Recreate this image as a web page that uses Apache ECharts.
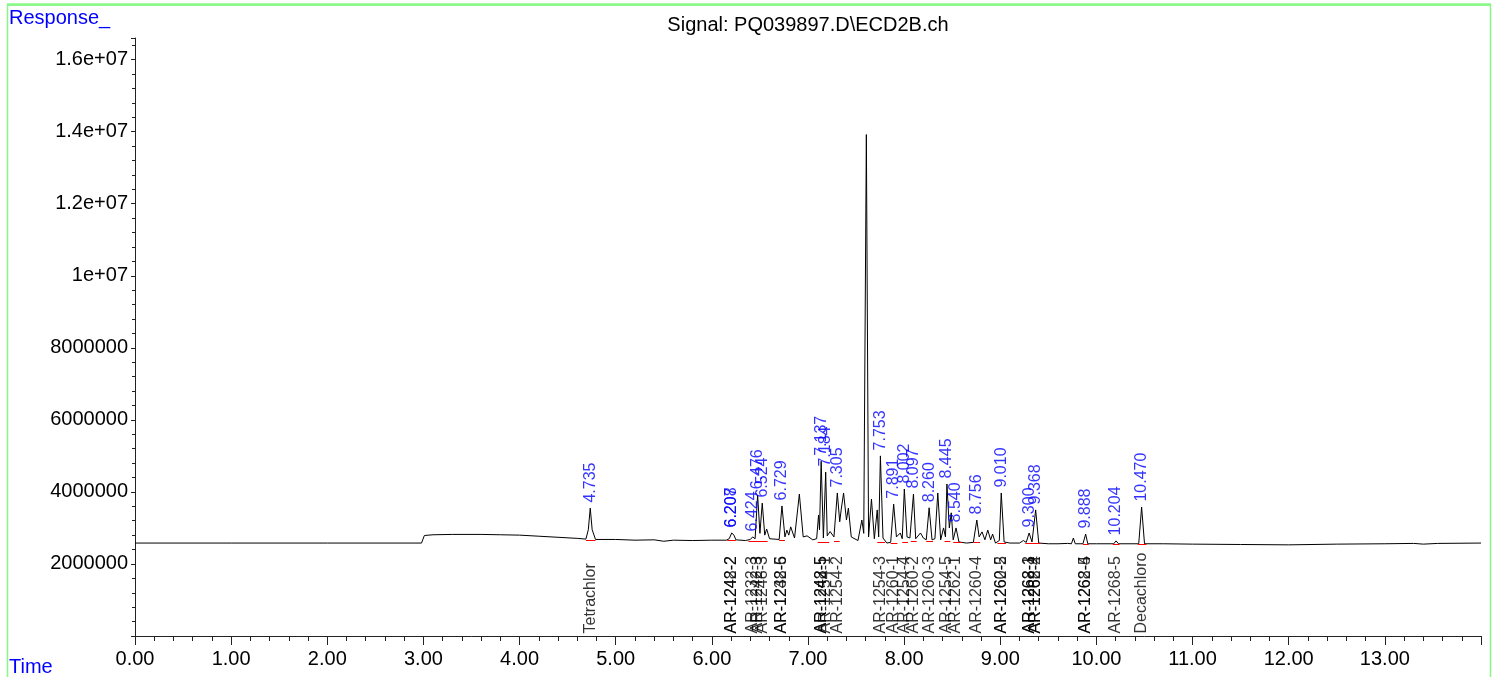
<!DOCTYPE html>
<html>
<head>
<meta charset="utf-8">
<script src="https://cdn.jsdelivr.net/npm/echarts@6/dist/echarts.min.js"></script>
<style>
html,body{margin:0;padding:0;background:#fff;}
#chart{width:1498px;height:677px;}
</style>
</head>
<body>
<div id="chart"></div>
<script>
// Chromatogram signal (time in min, response)
const sigTime = [0.00,1.00,2.00,2.98,3.01,3.10,3.30,3.60,3.80,4.00,4.20,4.40,4.60,4.69,4.715,4.735,4.755,4.79,5.00,5.20,5.40,5.50,5.60,5.80,6.00,6.15,6.18,6.207,6.23,6.25,6.35,6.40,6.424,6.45,6.476,6.50,6.524,6.55,6.57,6.60,6.70,6.729,6.76,6.78,6.80,6.82,6.86,6.91,6.95,6.99,7.05,7.09,7.11,7.12,7.137,7.16,7.184,7.20,7.23,7.27,7.305,7.33,7.345,7.37,7.40,7.42,7.45,7.52,7.56,7.58,7.607,7.63,7.66,7.69,7.72,7.735,7.753,7.78,7.82,7.86,7.891,7.92,7.96,7.98,8.002,8.03,8.06,8.097,8.12,8.17,8.20,8.23,8.260,8.29,8.32,8.35,8.38,8.41,8.43,8.445,8.47,8.49,8.51,8.540,8.57,8.65,8.72,8.756,8.78,8.81,8.84,8.87,8.90,8.92,8.95,8.99,9.010,9.04,9.10,9.20,9.24,9.27,9.300,9.33,9.368,9.40,9.50,9.60,9.70,9.74,9.76,9.78,9.86,9.888,9.91,10.00,10.18,10.204,10.23,10.44,10.470,10.50,10.70,11.00,11.50,12.00,12.50,13.00,13.30,13.40,13.55,14.00];
const sigResp = [2.58e6,2.58e6,2.58e6,2.58e6,2.79e6,2.81e6,2.82e6,2.82e6,2.81e6,2.80e6,2.77e6,2.74e6,2.71e6,2.69e6,2.95e6,3.55e6,2.95e6,2.68e6,2.68e6,2.66e6,2.67e6,2.63e6,2.66e6,2.65e6,2.66e6,2.66e6,2.70e6,2.86e6,2.80e6,2.67e6,2.65e6,2.68e6,2.75e6,2.70e6,3.92e6,2.85e6,3.69e6,2.80e6,2.97e6,2.70e6,2.68e6,3.61e6,2.75e6,2.94e6,2.80e6,3.03e6,2.72e6,3.94e6,2.75e6,2.78e6,2.67e6,2.70e6,3.36e6,2.95e6,4.85e6,2.72e6,4.55e6,2.78e6,2.90e6,2.75e6,3.97e6,3.17e6,3.50e6,3.97e6,3.22e6,3.55e6,2.75e6,2.65e6,3.22e6,2.85e6,13.92e6,2.75e6,3.80e6,2.70e6,3.50e6,2.75e6,5.00e6,2.72e6,2.58e6,2.60e6,3.66e6,2.75e6,2.86e6,2.70e6,4.08e6,2.75e6,2.72e6,3.94e6,2.70e6,2.86e6,2.72e6,2.67e6,3.56e6,2.67e6,2.70e6,3.97e6,2.67e6,3.00e6,2.75e6,4.22e6,3.00e6,3.42e6,2.67e6,3.00e6,2.61e6,2.58e6,2.60e6,3.22e6,2.75e6,2.89e6,2.67e6,2.94e6,2.67e6,2.83e6,2.58e6,2.65e6,3.97e6,2.61e6,2.58e6,2.58e6,2.65e6,2.60e6,2.86e6,2.61e6,3.50e6,2.58e6,2.56e6,2.56e6,2.57e6,2.56e6,2.72e6,2.56e6,2.56e6,2.83e6,2.56e6,2.56e6,2.56e6,2.64e6,2.56e6,2.56e6,3.58e6,2.56e6,2.56e6,2.55e6,2.54e6,2.53e6,2.55e6,2.56e6,2.57e6,2.55e6,2.57e6,2.58e6];

// Retention-time labels (blue)
const peakTimes = [4.735,6.207,6.208,6.424,6.476,6.524,6.729,7.137,7.184,7.305,7.753,7.891,8.002,8.097,8.260,8.445,8.540,8.756,9.010,9.300,9.368,9.888,10.204,10.470];
const peakHeights = [3.55e6,2.86e6,2.86e6,2.75e6,3.92e6,3.69e6,3.61e6,4.85e6,4.55e6,3.97e6,5.00e6,3.66e6,4.08e6,3.94e6,3.56e6,4.22e6,3.00e6,3.22e6,3.97e6,2.86e6,3.50e6,2.83e6,2.64e6,3.58e6];

// Compound labels (black)
const cmpNames = ['Tetrachlor','AR-1242-2','AR-1248-2','AR-1232-3','AR-1242-3','AR-1248-3','AR-1232-5','AR-1248-6','AR-1242-5','AR-1248-5','AR-1254-1','AR-1254-2','AR-1254-3','AR-1260-1','AR-1254-4','AR-1260-2','AR-1260-3','AR-1254-5','AR-1262-1','AR-1260-4','AR-1260-5','AR-1262-2','AR-1262-3','AR-1268-1','AR-1262-4','AR-1268-2','AR-1262-5','AR-1268-4','AR-1268-5','Decachloro'];
const cmpTimes = [4.735,6.207,6.208,6.424,6.476,6.524,6.729,6.729,7.137,7.137,7.184,7.305,7.753,7.891,8.002,8.097,8.260,8.445,8.540,8.756,9.010,9.010,9.300,9.300,9.368,9.368,9.888,9.888,10.204,10.470];

// Integration baselines (red)
const intStart = [4.69,6.16,6.38,6.70,7.10,7.27,7.72,7.86,7.98,8.07,8.23,8.42,8.51,8.72,8.97,9.26,9.34,9.86,10.17,10.43];
const intEnd   = [4.79,6.25,6.58,6.76,7.22,7.33,7.80,7.93,8.04,8.13,8.30,8.48,8.60,8.79,9.06,9.34,9.42,9.92,10.24,10.52];
const intLevel = [2.67e6,2.67e6,2.64e6,2.67e6,2.60e6,2.62e6,2.60e6,2.58e6,2.60e6,2.62e6,2.62e6,2.64e6,2.60e6,2.60e6,2.58e6,2.58e6,2.57e6,2.56e6,2.56e6,2.56e6];

const FONT = '"Liberation Sans", Arial, sans-serif';

function fmtY(v){
  if (v >= 1e7) {
    return v.toExponential().replace(/e\+(\d)$/, 'e+0$1');
  }
  return String(v);
}

const chart = echarts.init(document.getElementById('chart'), null, {renderer:'canvas'});

const signalData = sigTime.map((t,i)=>[t, sigResp[i]]);
const rtData = peakTimes.map((t,i)=>[t, peakHeights[i], t.toFixed(3)]);
const cmpData = cmpTimes.map((t,i)=>[t, 0, cmpNames[i]]);
const intData = intStart.map((s,i)=>({coords:[[s,intLevel[i]],[intEnd[i],intLevel[i]]]}));

chart.setOption({
  animation:false,
  backgroundColor:'#fff',
  grid:{left:135, right:17, top:38, bottom:41, containLabel:false},
  xAxis:{
    type:'value', min:0, max:14, interval:1,
    axisLine:{show:true, onZero:false, lineStyle:{color:'#222', width:1}},
    axisTick:{show:true, inside:false, length:9, lineStyle:{color:'#222'}},
    minorTick:{show:true, splitNumber:5, length:5, lineStyle:{color:'#222'}},
    splitLine:{show:false},
    axisLabel:{show:true, margin:13, color:'#000', fontSize:20, fontFamily:FONT, showMaxLabel:false,
      formatter:v=>v.toFixed(2)}
  },
  yAxis:{
    type:'value', min:0, max:16.6e6, interval:2e6,
    axisLine:{show:true, onZero:false, lineStyle:{color:'#222', width:1}},
    axisTick:{show:true, inside:false, length:4, lineStyle:{color:'#222'}},
    minorTick:{show:true, splitNumber:5, length:3, lineStyle:{color:'#222'}},
    splitLine:{show:false},
    axisLabel:{show:true, margin:7, color:'#000', fontSize:20, fontFamily:FONT, showMinLabel:false, showMaxLabel:false,
      formatter:fmtY}
  },
  graphic:[
    {type:'polyline', silent:true, shape:{points:[[7.5,700],[7.5,5],[1490.5,5],[1490.5,700]]}, style:{stroke:'#88f888', lineWidth:1.5, fill:null}},
    {type:'line', silent:true, shape:{x1:7,y1:4.5,x2:1491,y2:4.5}, style:{stroke:'#88f888', lineWidth:2.5}},
    {type:'text', silent:true, x:808, y:25, style:{text:'Signal: PQ039897.D\\ECD2B.ch', font:'20px '+FONT, fill:'#000', align:'center', verticalAlign:'middle'}},
    {type:'text', silent:true, x:9, y:18, style:{text:'Response_', font:'20px '+FONT, fill:'#0000ff', align:'left', verticalAlign:'middle'}},
    {type:'text', silent:true, x:9, y:667, style:{text:'Time', font:'20px '+FONT, fill:'#0000ff', align:'left', verticalAlign:'middle'}}
  ],
  series:[
    {
      type:'line', name:'signal', data:signalData, showSymbol:false, symbol:'none', sampling:'none',
      lineStyle:{color:'#000', width:1}, z:3, clip:true
    },
    {
      type:'lines', coordinateSystem:'cartesian2d', data:intData, polyline:false,
      lineStyle:{color:'#ff0000', width:1, opacity:1}, z:4, silent:true
    },
    {
      type:'scatter', name:'rt', data:rtData, symbolSize:1, itemStyle:{color:'rgba(0,0,0,0)'}, z:5, silent:true,
      label:{show:true, position:'top', distance:5, rotate:90, align:'left', verticalAlign:'middle',
        color:'#0000ff', fontSize:16, fontFamily:FONT, formatter:p=>p.data[2]}
    },
    {
      type:'scatter', name:'cmp', data:cmpData, symbolSize:1, itemStyle:{color:'rgba(0,0,0,0)'}, z:5, silent:true, clip:false,
      label:{show:true, position:'top', distance:2, rotate:90, align:'left', verticalAlign:'middle',
        color:'#000', fontSize:16, fontFamily:FONT, formatter:p=>p.data[2]}
    }
  ]
});
</script>
</body>
</html>
